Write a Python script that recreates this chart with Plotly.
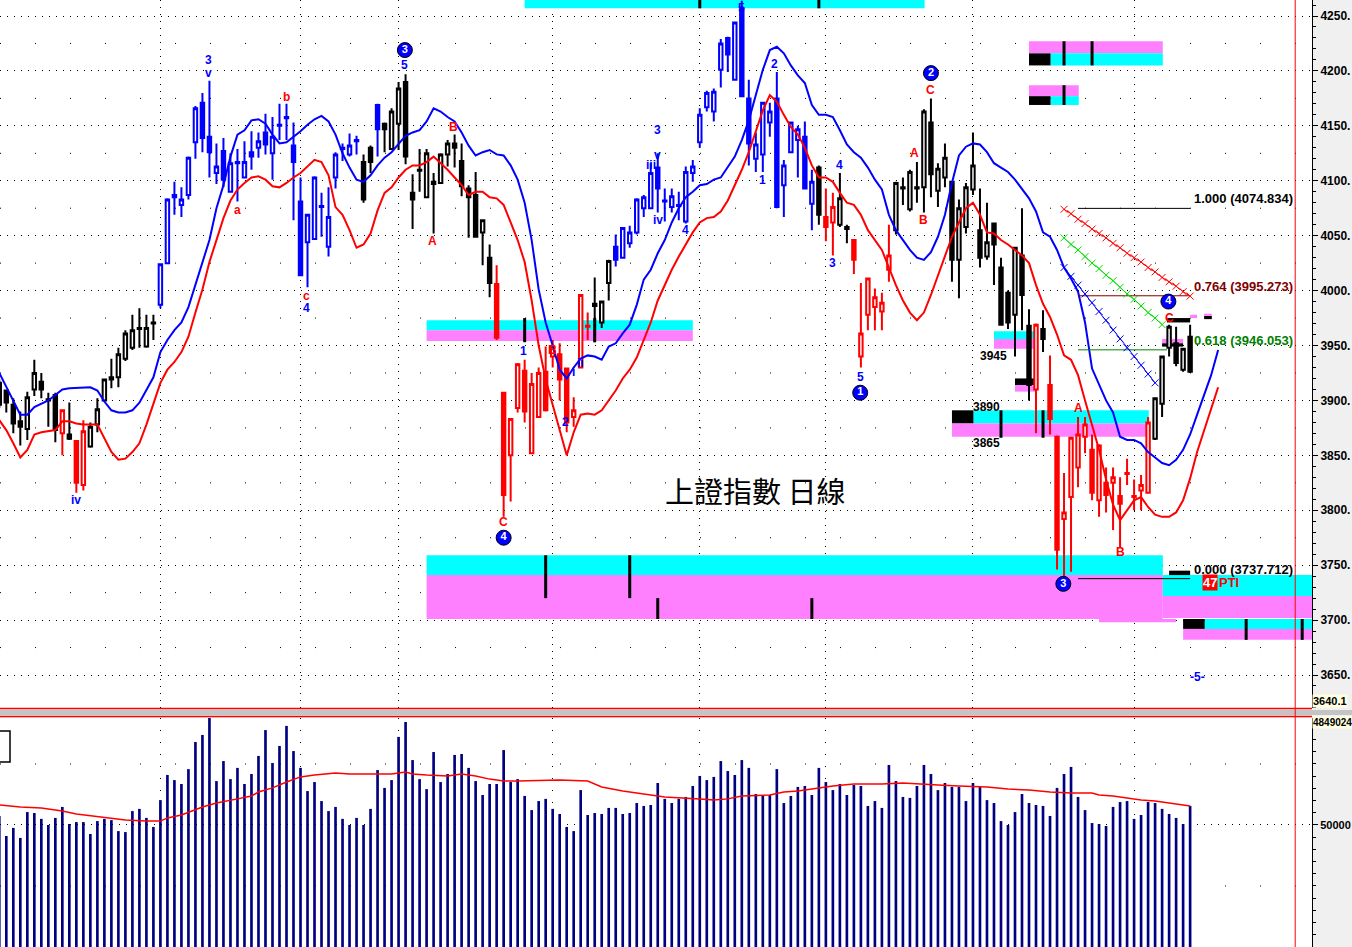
import plotly.graph_objects as go

# ---------------- price data: one row per trading day (bar index 0..170) ----------------
opens = [3896, 3909, 3896, 3881, 3874, 3910, 3917, 3901, 3905, 3870,
         3869, 3863, 3823, 3858, 3878, 3900, 3921, 3921, 3938, 3948,
         3966, 3949, 3971, 3987, 4025, 4085, 4078, 4087, 4135, 4171,
         4140, 4107, 4127, 4090, 4117, 4103, 4126, 4130, 4144, 4125,
         4151, 4157, 4132, 4081, 4044, 4047, 4077, 4040, 4103, 4129,
         4124, 4136, 4117, 4130, 4169, 4152, 4129, 4152, 4190, 4089,
         4110, 4085, 4099, 4098, 4124, 4134, 4118, 4093, 4087, 4053,
         4030, 4006, 3907, 3850, 3893, 3927, 3852, 3885, 3926, 3940,
         3942, 3929, 3885, 3930, 3968, 3988, 3971, 4007, 4040, 4030,
         4043, 4053, 4075, 4075, 4112, 4082, 4076, 4078, 4063, 4107,
         4135, 4167, 4163, 4201, 4230, 4192, 4257, 4175, 4120, 4124,
         4153, 4175, 4096, 4126, 4137, 4140, 4079, 4112, 4067, 4062,
         4060, 4058, 4046, 3940, 3978, 3985, 3981, 4019, 4055, 4094,
         4074, 4093, 4094, 4153, 4091, 4103, 4099, 4028, 4058, 4092,
         4055, 4031, 4061, 4021, 3998, 3978, 4032, 3968, 3910, 3965,
         3914, 3867, 3792, 3812, 3839, 3867, 3855, 3809, 3825, 3825,
         3813, 3834, 3813, 3818, 3816, 3865, 3897, 3948, 3952, 3928,
         3958]
highs = [3919, 3910, 3902, 3890, 3908, 3937, 3925, 3907, 3907, 3892,
         3898, 3864, 3882, 3880, 3902, 3920, 3938, 3948, 3964, 3978,
         3984, 3978, 3978, 4025, 4084, 4099, 4094, 4122, 4168, 4180,
         4191, 4134, 4139, 4125, 4129, 4136, 4145, 4144, 4161, 4158,
         4170, 4170, 4153, 4103, 4069, 4104, 4089, 4094, 4126, 4134,
         4143, 4141, 4124, 4132, 4170, 4153, 4166, 4190, 4197, 4106,
         4129, 4129, 4107, 4125, 4137, 4142, 4134, 4096, 4108, 4065,
         4042, 4023, 3908, 3884, 3934, 3937, 3925, 3930, 3949, 3955,
         3952, 3930, 3903, 3997, 3980, 4012, 3991, 4028, 4051, 4058,
         4059, 4084, 4087, 4116, 4125, 4093, 4093, 4090, 4113, 4119,
         4166, 4182, 4184, 4229, 4231, 4245, 4264, 4192, 4144, 4172,
         4171, 4199, 4119, 4154, 4150, 4154, 4110, 4114, 4093, 4089,
         4107, 4060, 4047, 4007, 4012, 4002, 3998, 4060, 4099, 4103,
         4110, 4117, 4165, 4175, 4116, 4134, 4100, 4083, 4098, 4144,
         4093, 4080, 4062, 4030, 4000, 4040, 4075, 3983, 3970, 3982,
         3941, 3868, 3834, 3867, 3885, 3885, 3869, 3860, 3839, 3839,
         3830, 3847, 3828, 3832, 3885, 3903, 3941, 3969, 3967, 3948,
         3969]
lows = [3893, 3889, 3870, 3859, 3864, 3904, 3902, 3876, 3862, 3850,
        3864, 3816, 3818, 3857, 3871, 3899, 3911, 3912, 3936, 3946,
        3948, 3948, 3955, 3984, 4024, 4069, 4067, 4083, 4120, 4126,
        4103, 4097, 4094, 4089, 4081, 4102, 4110, 4121, 4124, 4101,
        4137, 4137, 4064, 4013, 4003, 4046, 4049, 4031, 4093, 4118,
        4122, 4124, 4080, 4107, 4122, 4126, 4128, 4128, 4115, 4056,
        4090, 4084, 4052, 4097, 4113, 4112, 4086, 4048, 4048, 4023,
        3994, 3955, 3794, 3808, 3889, 3880, 3851, 3884, 3890, 3930,
        3900, 3871, 3876, 3929, 3955, 3953, 3966, 3991, 4022, 4029,
        4039, 4051, 4067, 4074, 4071, 4063, 4071, 4064, 4061, 4099,
        4130, 4163, 4154, 4185, 4199, 4191, 4176, 4114, 4108, 4108,
        4140, 4075, 4067, 4125, 4103, 4092, 4055, 4060, 4045, 4032,
        4058, 4043, 4015, 3930, 3964, 3964, 3964, 4008, 4051, 4078,
        4072, 4080, 4071, 4085, 4076, 4094, 4008, 3993, 4052, 4087,
        4021, 4028, 4005, 3968, 3965, 3940, 3964, 3900, 3870, 3944,
        3869, 3746, 3737.7, 3744, 3821, 3852, 3809, 3794, 3798, 3782,
        3766, 3823, 3800, 3800, 3815, 3864, 3885, 3940, 3931, 3926,
        3925]
closes = [3916, 3898, 3879, 3876, 3903, 3925, 3910, 3900, 3873, 3891,
          3865, 3825, 3872, 3876, 3892, 3919, 3919, 3942, 3961, 3964,
          3965, 3966, 3970, 4024, 4083, 4087, 4083, 4121, 4166, 4139,
          4126, 4113, 4101, 4116, 4116, 4117, 4122, 4136, 4133, 4140,
          4150, 4158, 4117, 4014, 4069, 4103, 4076, 4067, 4124, 4130,
          4132, 4137, 4083, 4117, 4147, 4147, 4163, 4184, 4122, 4083,
          4109, 4125, 4097, 4124, 4134, 4130, 4095, 4085, 4049, 4064,
          4007, 3957, 3814, 3883, 3933, 3890, 3915, 3925, 3891, 3949,
          3919, 3880, 3891, 3996, 3967, 3986, 3990, 4027, 4028, 4057,
          4053, 4083, 4085, 4107, 4093, 4081, 4086, 4077, 4108, 4113,
          4160, 4180, 4181, 4225, 4215, 4244, 4177, 4134, 4133, 4171,
          4163, 4076, 4114, 4153, 4147, 4093, 4099, 4069, 4058, 4076,
          4084, 4056, 4028, 3961, 4011, 3994, 3989, 4032, 4098, 4093,
          4108, 4094, 4163, 4106, 4111, 4121, 4028, 4075, 4094, 4114,
          4030, 4044, 4042, 3969, 3971, 4039, 3996, 3914, 3969, 3956,
          3883, 3764, 3798, 3866, 3869, 3878, 3816, 3859, 3814, 3830,
          3806, 3833, 3812, 3823, 3880, 3902, 3940, 3967, 3934, 3947,
          3926]
# wave colouring of each candle: b = blue, k = black, r = red
candle_group = ("k" * 9 + "r" + "k" + "rr" + "k" * 10 + "b" * 29 + "kk" + "b" + "k" * 16
                + "r" * 14 + "kkk" + "b" * 29 + "k" + "rr" + "kk" + "r" * 6 + "k" * 20
                + "r" + "k" + "r" * 15 + "k" * 6)

volume = [53700, 45500, 48800, 44700, 55300, 54900, 52500, 50000, 52900, 57400,
          50400, 51200, 51200, 46300, 51600, 52500, 52000, 47500, 47100, 55700,
          56600, 52900, 49200, 60200, 70500, 68400, 66800, 72900, 84000, 86900,
          94000, 68000, 76200, 68800, 73400, 66800, 70900, 78300, 88900, 75400,
          82400, 90600, 80300, 73400, 63900, 67600, 59800, 55700, 57400, 52500,
          50000, 52900, 50000, 56600, 72500, 65200, 68400, 86100, 92200, 76600,
          68800, 64700, 79900, 67600, 70900, 78700, 79100, 73400, 68000, 62300,
          66800, 66800, 80700, 67600, 68800, 61900, 56100, 59800, 60700, 56600,
          54500, 49200, 47500, 64300, 54100, 54900, 54500, 57000, 57000, 54500,
          54900, 59000, 57800, 58200, 67200, 60700, 59000, 60700, 61500, 66000,
          70100, 68400, 69700, 76200, 72100, 70500, 76600, 73400, 62700, 61900,
          62300, 72900, 59000, 61900, 65600, 66000, 62300, 73400, 67600, 64300,
          66800, 62300, 66400, 66000, 57800, 59800, 57000, 74600, 68000, 61500,
          61100, 66000, 74600, 70900, 64300, 67200, 65600, 65600, 59800, 67200,
          65600, 60200, 59000, 51600, 50000, 55300, 62700, 59000, 58200, 57800,
          53700, 65200, 70900, 73800, 61500, 56100, 50800, 50400, 49600, 57400,
          59400, 59800, 52500, 54100, 59400, 59000, 56600, 54500, 52900, 50400,
          57800]

vol_ma_x = [0, 3, 6, 9, 11, 15, 18, 21, 23, 24, 26, 29, 31, 34, 36, 37, 39, 41, 43, 45,
            48, 50, 56, 58, 59, 61, 64, 66, 68, 70, 72, 74, 80, 84, 86, 89, 92, 95, 100, 102,
            104, 106, 110, 112, 114, 116, 119, 122, 126, 129, 131, 134, 137, 141, 144, 147,
            150, 153, 156, 157, 159, 161, 163, 165, 167, 170]
vol_ma = [58200, 57400, 57000, 55700, 54500, 52900, 52000, 51600, 51600, 52900,
          54100, 57400, 59000, 60700, 61900, 63500, 65200, 67600, 69700, 70500,
          71300, 70900, 70900, 71700, 70900, 70500, 70100, 70900, 70100, 68800,
          68000, 68000, 68400, 68000, 65600, 63900, 62700, 61500, 60700, 60200,
          60700, 61900, 62300, 63500, 63900, 64700, 66000, 66800, 66800, 67200,
          66800, 66400, 66000, 65600, 64700, 64300, 63500, 63100, 63100, 62300,
          61900, 61100, 60200, 59800, 59000, 57800]

# envelope lines (shifted forward 4 bars past the last candle)
upper_x = [0, 2, 3, 4, 5, 7, 9, 10, 13, 14, 15, 16, 17, 18, 19, 20, 21, 22] + list(range(23, 175))
upper_band = [3925, 3900, 3887, 3887, 3894, 3900, 3910, 3911, 3912, 3909, 3899, 3891, 3889, 3889,
              3891, 3898, 3910, 3921,
              3944, 3955, 3964, 3971, 3985, 4005, 4026, 4046, 4075, 4096,
              4122, 4142, 4146, 4155, 4156, 4152, 4142, 4134, 4135, 4140,
              4145, 4151, 4156, 4159, 4154, 4142, 4125, 4112, 4101, 4099,
              4105, 4114, 4121, 4126, 4133, 4141, 4144, 4146, 4154, 4166,
              4163, 4158, 4154, 4144, 4132, 4123, 4126, 4128, 4124, 4123,
              4114, 4101, 4080, 4046, 4001, 3971, 3950, 3928, 3920, 3930,
              3938, 3941, 3940, 3937, 3949, 3952, 3961, 3969, 3987, 4010,
              4019, 4034, 4046, 4062, 4075, 4085, 4090, 4096, 4097, 4101,
              4103, 4112, 4122, 4137, 4155, 4178, 4201, 4219, 4222, 4216,
              4205, 4196, 4189, 4169, 4160, 4160, 4158, 4146, 4133, 4126,
              4121, 4112, 4101, 4092, 4069, 4055, 4046, 4037, 4030, 4028,
              4035, 4049, 4069, 4098, 4123, 4131, 4134, 4133, 4126, 4116,
              4112, 4108, 4101, 4093, 4084, 4072, 4053, 4049, 4037, 4021,
              4011, 3999, 3971, 3929, 3914, 3900, 3889, 3867, 3864, 3864,
              3861, 3853, 3848, 3843, 3841, 3846, 3855, 3869, 3887, 3905,
              3923, 3946]
lower_x = [0, 1, 2, 3, 4, 5, 6, 8, 9, 10, 11, 12, 14] + list(range(15, 175))
lower_band = [3882, 3873, 3861, 3848, 3855, 3869, 3871, 3873, 3881, 3881, 3879, 3878, 3878,
              3866, 3853, 3846, 3847, 3853, 3861, 3878, 3898, 3916, 3928,
              3935, 3944, 3958, 3980, 4001, 4026, 4046, 4066, 4082, 4092,
              4098, 4103, 4104, 4101, 4095, 4094, 4098, 4103, 4107, 4113,
              4119, 4117, 4105, 4076, 4069, 4055, 4039, 4042, 4052, 4073,
              4089, 4094, 4103, 4110, 4114, 4114, 4117, 4122, 4116, 4110,
              4103, 4096, 4087, 4090, 4090, 4085, 4084, 4078, 4062, 4046,
              4026, 3991, 3950, 3919, 3896, 3873, 3850, 3871, 3887, 3888,
              3887, 3891, 3900, 3909, 3920, 3928, 3939, 3955, 3971, 3991,
              4005, 4019, 4031, 4042, 4053, 4062, 4066, 4067, 4072, 4082,
              4096, 4110, 4126, 4146, 4164, 4178, 4172, 4160, 4149, 4142,
              4130, 4114, 4103, 4103, 4099, 4089, 4080, 4078, 4069, 4055,
              4046, 4037, 4021, 4005, 3991, 3980, 3973, 3980, 3996, 4014,
              4032, 4049, 4062, 4075, 4080, 4069, 4053, 4052, 4046, 4042,
              4037, 4032, 4025, 4005, 3988, 3976, 3960, 3941, 3937, 3923,
              3900, 3878, 3855, 3828, 3805, 3791, 3800, 3809, 3812, 3803,
              3796, 3794, 3794, 3798, 3809, 3829, 3853, 3873, 3891, 3912]

# first trading day of each month (vertical grid)
month_starts = [0, 23, 43, 57, 79, 100, 118, 139, 162]

# price zones: c = cyan, m = magenta, k = black
zone_x0 = [75, 61, 61, 61, 61, 157, 166.1, 166.1, 167, 169, 172.1, 169,
           147, 147, 150.1, 147, 147, 150.1, 136, 139.1, 136, 142, 142, 145, 145,
           166, 166, 166.7, 170, 172, 172]
zone_x1 = [132.1, 99, 99, 166.1, 166.1, 168, 188, 188, 170, 172.1, 188, 188,
           166.1, 150.1, 166.1, 154.1, 150.1, 154.1, 139.1, 164.1, 164.1, 148.1, 148.1, 148, 148,
           169, 169, 170, 171, 173.1, 173.1]
zone_lo = [4257, 3964, 3954, 3741, 3701, 3698, 3722, 3702, 3741, 3692, 3692, 3682,
           4216, 4205, 4205, 4177, 4169, 4169, 3879, 3879, 3867, 3956, 3947, 3914, 3908,
           3952, 3949, 3971, 3975, 3974, 3977]
zone_hi = [4275, 3973, 3964, 3759, 3741, 3701, 3741, 3722, 3745, 3701, 3701, 3692,
           4227, 4216, 4216, 4187, 4177, 4177, 3891, 3891, 3879, 3963, 3956, 3920, 3914,
           3956, 3952, 3975, 3978, 3977, 3979]
zone_kind = ["c", "c", "m", "c", "m", "m", "c", "m", "k", "k", "c", "m",
             "m", "k", "c", "m", "k", "c", "k", "c", "m", "c", "m", "k", "m",
             "m", "k", "k", "m", "k", "m"]
tick_x = [100, 117, 75, 85, 78, 90, 94, 116, 178, 186, 152, 156, 152, 143, 149]
tick_lo = [4257, 4257, 3953, 3953, 3720, 3720, 3701, 3701, 3682, 3682, 4205, 4205, 4169, 3866, 3866]
tick_hi = [4275, 4275, 3975, 3975, 3759, 3759, 3720, 3720, 3701, 3701, 4227, 4227, 4187, 3891, 3891]
level_text = ["3945", "3890", "3865"]
level_x = [141.9, 141, 141]
level_y = [3940, 3894, 3861]

# fibonacci retracement
fib_ratio = [1.0, 0.764, 0.618, 0.0]
fib_price = [4074.834, 3995.273, 3946.053, 3737.712]
fib_x0 = [154, 154, 154, 154]
fib_x1 = [170, 170, 166.7, 170]

# projection lines with x markers
fan_red_x = list(range(152, 171))
fan_red = [4074, 4070, 4065, 4061, 4056, 4052, 4048, 4043, 4039, 4034,
           4030, 4026, 4021, 4017, 4012, 4008, 4004, 3999, 3995]
fan_green_x = list(range(152, 167))
fan_green = [4048, 4042, 4037, 4031, 4025, 4020, 4014, 4009, 4003, 3997,
             3992, 3986, 3980, 3975, 3969]
fan_blue_x = list(range(152, 166))
fan_blue = [4021, 4013, 4005, 3997, 3989, 3981, 3973, 3964, 3956, 3948,
            3940, 3932, 3924, 3916]

# elliott wave labels
wave_text = ["3", "v", "iv", "a", "b", "c", "4", "5", "A", "B", "C", "1", "B", "2", "i", "ii",
             "3", "iii", "v", "iv", "4", "5", "2", "1", "4", "3", "5", "A", "B", "C",
             "A", "B", "C", "-5-"]
wave_x = [29.9, 29.9, 11, 34, 41, 43.9, 43.9, 57.9, 61.9, 64.9, 72, 74.9, 79, 80.9, 82, 83,
          93.9, 93, 93.9, 94, 97.9, 105.9, 110.7, 109, 119.9, 118.9, 122.9, 130.7, 131.9, 133,
          154, 160, 167.1, 171]
wave_y = [4210, 4198, 3809, 4073, 4176, 3995, 3984, 4205, 4045, 4149, 3789, 3945, 3946, 3880,
          3926, 3934, 4146, 4114, 4123, 4064, 4055, 4257, 4206, 4101, 4114, 4025, 3921, 4125,
          4064, 4183, 3893, 3762, 3975, 3648]
wave_col = ["b", "b", "b", "r", "r", "r", "b", "b", "r", "r", "r", "b", "r", "b", "b", "b",
            "b", "b", "b", "b", "b", "b", "b", "b", "b", "b", "b", "r", "r", "r",
            "r", "r", "r", "b"]
circle_num = ["3", "4", "1", "2", "3", "4"]
circle_x = [57.9, 72, 122.9, 133, 151.9, 166.9]
circle_y = [4219, 3775, 3907, 4198, 3733, 3990]

TITLE = "上證指數 日線"

# ---------------- styles ----------------
GROUP_COLORS = {"b": "#0000ff", "k": "#000000", "r": "#ff0000"}
ZONE_COLORS = {"c": "#00ffff", "m": "#ff80ff", "k": "#000000"}
FIB_COLORS = ["#000000", "#800000", "#008000", "#000000"]
FONT = "Liberation Sans, Arial, sans-serif"
W, H, PLOT_W = 1352, 947, 1312
X_RANGE = [0.1, 187.4]
PRICE_RANGE = [3619.96, 4264.57]
VOL_RANGE = [0, 93844]
PRICE_DOMAIN = [1 - 708 / H, 1]
VOL_DOMAIN = [0, 1 - 718 / H]


def py(pix):
    # pixel row -> paper y
    return 1 - pix / H


fig = go.Figure()

# zones and their tick marks (above grid, below traces)
for x0, x1, lo, hi, kind in zip(zone_x0, zone_x1, zone_lo, zone_hi, zone_kind):
    fig.add_shape(type="rect", xref="x", yref="y", x0=x0, x1=x1, y0=lo, y1=hi,
                  fillcolor=ZONE_COLORS[kind], line_width=0, layer="between")
for tx, lo, hi in zip(tick_x, tick_lo, tick_hi):
    fig.add_shape(type="line", xref="x", yref="y", x0=tx, x1=tx, y0=lo, y1=hi,
                  line=dict(color="black", width=3), layer="between")

# sparse half-level grid
for lvl in range(3675, 4250, 50):
    fig.add_shape(type="line", xref="paper", yref="y", x0=0, x1=1, y0=lvl, y1=lvl,
                  line=dict(color="black", width=1, dash="1px,34px"), layer="below")
for lvl in (25000, 75000):
    fig.add_shape(type="line", xref="paper", yref="y2", x0=0, x1=1, y0=lvl, y1=lvl,
                  line=dict(color="black", width=1, dash="1px,34px"), layer="below")

# envelopes
fig.add_scatter(x=upper_x, y=upper_band, mode="lines", line=dict(color="#0000ff", width=2),
                hoverinfo="skip")
fig.add_scatter(x=lower_x, y=lower_band, mode="lines", line=dict(color="#ff0000", width=2),
                hoverinfo="skip")

# candles, one trace per colour group: hollow = up day, filled = down day
days = list(range(len(opens)))
for g, col in GROUP_COLORS.items():
    idx = [i for i in days if candle_group[i] == g]
    fig.add_candlestick(x=idx, open=[opens[i] for i in idx], high=[highs[i] for i in idx],
                        low=[lows[i] for i in idx], close=[closes[i] for i in idx],
                        increasing=dict(line=dict(color=col, width=2), fillcolor="white"),
                        decreasing=dict(line=dict(color=col, width=2), fillcolor=col),
                        whiskerwidth=0, hoverinfo="skip")

# fibonacci lines and labels
for r, p, x0, x1, col in zip(fib_ratio, fib_price, fib_x0, fib_x1, FIB_COLORS):
    fig.add_scatter(x=[x0, x1], y=[p, p], mode="lines", line=dict(color=col, width=1),
                    hoverinfo="skip")
    fig.add_annotation(x=170.2, y=p, xref="x", yref="y", xanchor="left", yanchor="bottom",
                       text=f"<b>{r:.3f} ({p:.3f})</b>", showarrow=False,
                       font=dict(family=FONT, size=13, color=col))

# projection lines
for fx, fy, col in ((fan_red_x, fan_red, "#ff0000"), (fan_green_x, fan_green, "#00e000"),
                    (fan_blue_x, fan_blue, "#0000ff")):
    fig.add_scatter(x=fx, y=fy, mode="lines+markers", line=dict(color=col, width=1),
                    marker=dict(symbol="x-thin", size=7, line=dict(color=col, width=1)),
                    hoverinfo="skip")

# volume
fig.add_bar(x=days, y=volume, width=0.38, marker=dict(color="#000080", line_width=0),
            xaxis="x2", yaxis="y2", hoverinfo="skip")
fig.add_scatter(x=vol_ma_x, y=vol_ma, mode="lines", line=dict(color="#ff0000", width=1.5),
                xaxis="x2", yaxis="y2", hoverinfo="skip")

# wave labels
for t, x, y, c in zip(wave_text, wave_x, wave_y, wave_col):
    fig.add_annotation(x=x, y=y, text=f"<b>{t}</b>", showarrow=False,
                       font=dict(family=FONT, size=12, color=GROUP_COLORS[c]))
fig.add_scatter(x=circle_x, y=circle_y, mode="markers+text",
                text=[f"<b>{n}</b>" for n in circle_num], textposition="middle center",
                textfont=dict(family=FONT, size=11, color="white"),
                marker=dict(size=15, color="#0000ff", line=dict(color="black", width=1)),
                hoverinfo="skip")
for t, x, y in zip(level_text, level_x, level_y):
    fig.add_annotation(x=x, y=y, text=f"<b>{t}</b>", showarrow=False,
                       font=dict(family=FONT, size=12, color="black"))
fig.add_annotation(x=172.9, y=3734, text="<b>47</b>", showarrow=False, bgcolor="#ff0000",
                   borderpad=0, font=dict(family=FONT, size=13, color="white"))
fig.add_annotation(x=175.6, y=3734, text="<b>PTI</b>", showarrow=False,
                   font=dict(family=FONT, size=13, color="#ff0000"))
fig.add_annotation(x=107.9, y=3818.5, text=TITLE, showarrow=False,
                   font=dict(family="Noto Sans CJK TC", size=29, color="black"))

# panel separator, crosshair, stray legend box, readouts
fig.add_shape(type="rect", xref="paper", yref="paper", x0=0, x1=W / PLOT_W, y0=py(715), y1=py(710),
              fillcolor="#c4c4c4", line_width=0, layer="above")
for pix in (708.5, 716.5):
    fig.add_shape(type="line", xref="paper", yref="paper", x0=0, x1=1, y0=py(pix), y1=py(pix),
                  line=dict(color="#ff0000", width=1.5), layer="above")
fig.add_shape(type="line", xref="x", yref="paper", x0=185, x1=185, y0=0, y1=1,
              line=dict(color="#ff0000", width=1), layer="above")
fig.add_shape(type="rect", xref="paper", yref="paper", x0=-0.01, x1=10 / PLOT_W, y0=py(762), y1=py(731),
              fillcolor="white", line=dict(color="black", width=1.5), layer="above")
fig.add_annotation(xref="paper", yref="paper", x=1.0, y=py(708), xanchor="left", yanchor="bottom",
                   text="<b>3640.1</b>", showarrow=False, bgcolor="#ffffe0", borderpad=0,
                   font=dict(family=FONT, size=11, color="black"))
fig.add_annotation(xref="paper", yref="paper", x=1.0, y=py(716), xanchor="left", yanchor="top",
                   text="<b>4849024</b>", showarrow=False, bgcolor="#ffffe0", borderpad=0,
                   font=dict(family=FONT, size=10, color="black"))

price_ticks = list(range(3650, 4251, 50))
axis_font = dict(family=FONT, size=12, color="black", weight="bold")
fig.update_layout(
    width=W, height=H, margin=dict(l=0, r=W - PLOT_W, t=0, b=0, autoexpand=False),
    paper_bgcolor="#f0f0f0", plot_bgcolor="white", showlegend=False,
    xaxis=dict(domain=[0, 1], range=X_RANGE, anchor="y", tickvals=month_starts,
               showticklabels=False, ticks="", showgrid=True, gridcolor="black",
               griddash="1px,6px", gridwidth=1, zeroline=False, showline=False,
               rangeslider=dict(visible=False), fixedrange=True),
    yaxis=dict(domain=PRICE_DOMAIN, range=PRICE_RANGE, side="right", anchor="x",
               tickvals=price_ticks, ticktext=[f"{v}." for v in price_ticks],
               ticks="outside", ticklen=5, tickcolor="black", tickfont=axis_font,
               showline=True, linecolor="black", linewidth=1,
               showgrid=True, gridcolor="black", gridwidth=1, griddash="1px,6px",
               zeroline=False, fixedrange=True,
               minor=dict(dtick=10, ticklen=3, ticks="outside", tickcolor="black", showgrid=False)),
    xaxis2=dict(domain=[0, 1], range=X_RANGE, anchor="y2", tickvals=month_starts,
                showticklabels=False, ticks="", showgrid=True, gridcolor="black",
                griddash="1px,11px", gridwidth=1, zeroline=False, showline=False, fixedrange=True),
    yaxis2=dict(domain=VOL_DOMAIN, range=VOL_RANGE, side="right", anchor="x2",
                tickvals=[50000], ticktext=["50000"], ticks="outside", ticklen=5,
                tickcolor="black", tickfont=dict(axis_font, size=11), showline=True,
                linecolor="black", linewidth=1, showgrid=True, gridcolor="black", gridwidth=1,
                griddash="1px,6px", zeroline=False, fixedrange=True,
                minor=dict(dtick=5000, ticklen=3, ticks="outside", tickcolor="black", showgrid=False)),
)

# page body has a default 8px margin; drop it so the chart fills the window
fig.write_html("out.html", config={"displayModeBar": False},
               post_script="document.body.style.margin='0';document.body.style.overflow='hidden';")
